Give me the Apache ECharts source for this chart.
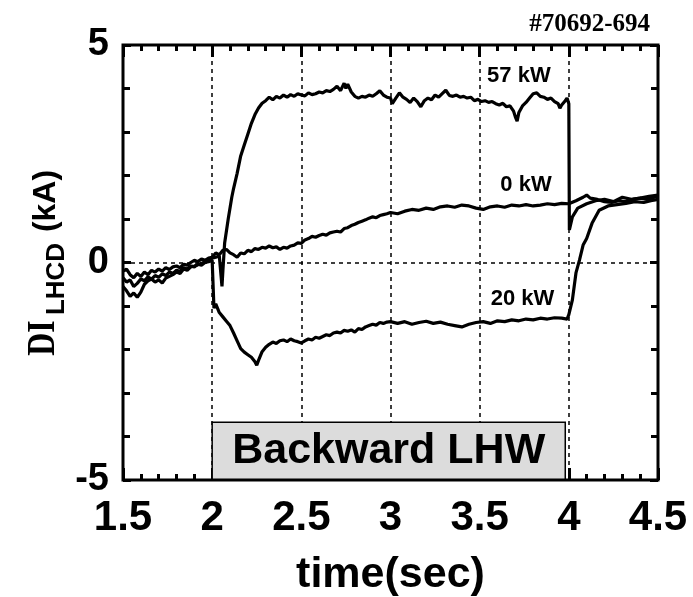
<!DOCTYPE html>
<html>
<head>
<meta charset="utf-8">
<script src="https://cdn.jsdelivr.net/npm/echarts@6/dist/echarts.min.js"></script>
<style>html,body{margin:0;padding:0;background:#fff}#c{width:693px;height:597px}</style>
</head>
<body>
<div id="c"></div>
<script>
// x tick labels (seconds) and y tick labels (kA)
const xTicks = [1.5, 2, 2.5, 3, 3.5, 4, 4.5];
const yTicks = [-5, 0, 5];
const seriesNames = ['57 kW', '0 kW', '20 kW'];

// 57 kW shot: [time (s), dI (kA)]
const s57 = [
[1.50,-0.55],[1.52,-0.65],[1.54,-0.78],[1.56,-0.70],[1.58,-0.80],[1.60,-0.68],[1.62,-0.50],[1.64,-0.42],
[1.66,-0.38],[1.68,-0.45],[1.70,-0.40],[1.72,-0.47],[1.74,-0.36],[1.76,-0.32],[1.78,-0.28],[1.80,-0.22],
[1.82,-0.25],[1.84,-0.15],[1.86,-0.18],[1.88,-0.10],[1.90,-0.08],[1.92,-0.05],[1.94,-0.02],[1.96,0.02],
[1.98,0.04],[2.00,0.10],[2.02,0.12],[2.04,0.15],[2.05,0.18],[2.055,-0.55],[2.06,-0.20],[2.07,0.45],
[2.09,1.00],[2.11,1.50],[2.12,1.70],[2.14,2.05],[2.16,2.45],[2.18,2.70],[2.20,2.95],[2.22,3.20],
[2.24,3.40],[2.26,3.55],[2.28,3.66],[2.30,3.72],[2.32,3.80],[2.34,3.74],[2.36,3.82],[2.38,3.78],
[2.40,3.85],[2.42,3.80],[2.44,3.86],[2.46,3.82],[2.48,3.88],[2.50,3.85],[2.52,3.83],[2.54,3.90],
[2.56,3.86],[2.58,3.88],[2.60,3.92],[2.62,3.90],[2.64,3.95],[2.66,3.93],[2.68,3.98],[2.70,4.05],
[2.72,3.95],[2.74,4.12],[2.75,4.00],[2.76,4.10],[2.78,3.92],[2.80,3.82],[2.82,3.78],[2.84,3.82],
[2.86,3.80],[2.88,3.85],[2.90,3.82],[2.92,3.88],[2.94,3.95],[2.96,3.85],[2.98,3.80],[3.00,3.78],
[3.01,3.65],[3.03,3.78],[3.05,3.90],[3.07,3.80],[3.09,3.75],[3.11,3.68],[3.13,3.78],[3.15,3.70],
[3.17,3.58],[3.19,3.72],[3.21,3.78],[3.23,3.74],[3.25,3.85],[3.27,3.80],[3.29,3.88],[3.31,3.96],
[3.33,3.84],[3.35,3.82],[3.37,3.85],[3.39,3.80],[3.41,3.82],[3.43,3.78],[3.45,3.80],[3.47,3.72],
[3.49,3.75],[3.51,3.70],[3.53,3.72],[3.55,3.68],[3.57,3.70],[3.59,3.65],[3.61,3.62],[3.63,3.66],
[3.65,3.58],[3.67,3.60],[3.69,3.48],[3.70,3.35],[3.71,3.25],[3.72,3.45],[3.74,3.60],[3.76,3.68],
[3.78,3.78],[3.80,3.88],[3.82,3.90],[3.84,3.82],[3.86,3.80],[3.88,3.75],[3.90,3.78],[3.92,3.70],
[3.94,3.65],[3.95,3.55],[3.96,3.62],[3.98,3.72],[3.99,3.78],[4.00,3.65],[4.003,0.75],[4.02,1.05],
[4.05,1.25],[4.10,1.35],[4.15,1.42],[4.20,1.45],[4.25,1.40],[4.30,1.50],[4.35,1.45],[4.40,1.48],
[4.45,1.52],[4.50,1.55]
];

// 0 kW shot
const s0 = [
[1.50,-0.20],[1.52,-0.15],[1.54,-0.28],[1.56,-0.35],[1.58,-0.25],[1.60,-0.32],[1.62,-0.22],[1.64,-0.28],
[1.66,-0.18],[1.68,-0.22],[1.70,-0.15],[1.72,-0.20],[1.74,-0.12],[1.76,-0.16],[1.78,-0.10],[1.80,-0.08],
[1.82,-0.12],[1.84,-0.04],[1.86,-0.06],[1.88,0.00],[1.90,0.05],[1.92,0.02],[1.94,0.08],[1.96,0.05],
[1.98,0.10],[2.00,0.12],[2.02,0.22],[2.04,0.18],[2.06,0.28],[2.08,0.30],[2.10,0.22],[2.12,0.18],
[2.14,0.12],[2.16,0.22],[2.18,0.20],[2.20,0.28],[2.22,0.25],[2.24,0.32],[2.26,0.30],[2.28,0.35],
[2.30,0.33],[2.32,0.38],[2.34,0.34],[2.36,0.36],[2.38,0.30],[2.40,0.35],[2.42,0.33],[2.44,0.38],
[2.46,0.40],[2.48,0.45],[2.50,0.44],[2.52,0.52],[2.54,0.55],[2.56,0.60],[2.58,0.58],[2.60,0.62],
[2.62,0.65],[2.64,0.63],[2.66,0.68],[2.68,0.70],[2.70,0.72],[2.72,0.70],[2.74,0.78],[2.76,0.80],
[2.78,0.85],[2.80,0.88],[2.82,0.92],[2.84,0.95],[2.86,0.98],[2.88,1.02],[2.90,1.05],[2.92,1.03],
[2.94,1.08],[2.96,1.10],[2.98,1.12],[3.00,1.15],[3.04,1.12],[3.08,1.18],[3.12,1.22],[3.16,1.20],
[3.20,1.25],[3.24,1.22],[3.28,1.28],[3.32,1.30],[3.36,1.27],[3.40,1.32],[3.44,1.30],[3.48,1.25],
[3.52,1.22],[3.56,1.28],[3.60,1.30],[3.64,1.27],[3.68,1.32],[3.72,1.30],[3.76,1.33],[3.80,1.30],
[3.84,1.32],[3.88,1.35],[3.92,1.33],[3.96,1.36],[4.00,1.35],[4.04,1.42],[4.08,1.50],[4.10,1.55],
[4.12,1.48],[4.16,1.45],[4.20,1.40],[4.24,1.38],[4.28,1.42],[4.32,1.40],[4.36,1.45],[4.40,1.48],
[4.44,1.45],[4.48,1.50],[4.50,1.52]
];

// 20 kW shot
const s20 = [
[1.50,-0.35],[1.52,-0.45],[1.54,-0.40],[1.56,-0.55],[1.58,-0.48],[1.60,-0.38],[1.62,-0.42],[1.64,-0.33],
[1.66,-0.38],[1.68,-0.30],[1.70,-0.34],[1.72,-0.26],[1.74,-0.30],[1.76,-0.22],[1.78,-0.25],[1.80,-0.18],
[1.82,-0.20],[1.84,-0.12],[1.86,-0.15],[1.88,-0.08],[1.90,-0.10],[1.92,-0.04],[1.94,-0.06],[1.96,0.00],
[1.98,0.02],[2.00,0.05],[2.005,-0.50],[2.01,-1.05],[2.02,-0.95],[2.04,-1.15],[2.06,-1.25],[2.08,-1.35],
[2.10,-1.45],[2.12,-1.62],[2.14,-1.80],[2.16,-1.98],[2.18,-2.06],[2.20,-2.12],[2.22,-2.18],[2.24,-2.28],
[2.25,-2.36],[2.26,-2.25],[2.28,-2.05],[2.30,-1.95],[2.32,-1.88],[2.34,-1.83],[2.36,-1.86],[2.38,-1.80],
[2.40,-1.78],[2.42,-1.82],[2.44,-1.76],[2.46,-1.80],[2.48,-1.82],[2.50,-1.85],[2.52,-1.80],[2.54,-1.76],
[2.56,-1.78],[2.58,-1.72],[2.60,-1.74],[2.62,-1.70],[2.64,-1.66],[2.66,-1.68],[2.68,-1.62],[2.70,-1.60],
[2.72,-1.62],[2.74,-1.56],[2.76,-1.58],[2.78,-1.55],[2.80,-1.60],[2.82,-1.52],[2.84,-1.54],[2.86,-1.48],
[2.88,-1.45],[2.90,-1.42],[2.92,-1.44],[2.94,-1.38],[2.96,-1.40],[2.98,-1.37],[3.00,-1.36],[3.04,-1.40],
[3.08,-1.36],[3.12,-1.42],[3.16,-1.38],[3.20,-1.35],[3.24,-1.40],[3.28,-1.37],[3.32,-1.42],[3.36,-1.45],
[3.40,-1.48],[3.44,-1.42],[3.48,-1.38],[3.52,-1.36],[3.56,-1.40],[3.60,-1.34],[3.64,-1.36],[3.68,-1.32],
[3.72,-1.34],[3.76,-1.30],[3.80,-1.32],[3.84,-1.28],[3.88,-1.30],[3.92,-1.27],[3.96,-1.28],[3.99,-1.30],
[4.00,-1.20],[4.02,-0.86],[4.04,-0.24],[4.06,0.06],[4.08,0.40],[4.10,0.55],[4.13,0.90],[4.17,1.20],
[4.22,1.30],[4.27,1.33],[4.32,1.36],[4.37,1.40],[4.42,1.38],[4.46,1.42],[4.50,1.45]
];

// annotation anchors (data coordinates)
const labelAnchors = [[3.72, 4.30], [3.76, 1.78], [3.74, -0.84]];
const lhwWindow = [2.0, 3.98];   // backward LHW on (s)
const lhwBoxTop = -3.67;         // kA

const SANS = "'Liberation Sans', Arial, Helvetica, sans-serif";
const SERIF = "'Liberation Serif', 'Times New Roman', serif";

const chart = echarts.init(document.getElementById('c'), null, {renderer: 'canvas'});

const dashed = {show: true, lineStyle: {color: '#000', width: 1.5, type: [4, 4]}};

function mkXAxis(pos, withLabels) {
  return {
    type: 'value', position: pos, min: 1.5, max: 4.5, interval: 0.5,
    axisLine: {show: false, onZero: false},
    axisTick: {show: true, inside: true, length: 12, lineStyle: {color: '#000', width: 3}},
    minorTick: {show: true, splitNumber: 5, length: 6, lineStyle: {color: '#000', width: 3}},
    splitLine: withLabels ? dashed : {show: false},
    axisLabel: withLabels ? {show: true, margin: 17, fontSize: 42, fontWeight: 'bold', color: '#000', fontFamily: SANS,
      formatter: v => String(xTicks.find(t => Math.abs(t - v) < 1e-6))} : {show: false},
    name: withLabels ? 'time(sec)' : '',
    nameLocation: 'middle', nameGap: 74,
    nameTextStyle: {fontSize: 43, fontWeight: 'bold', color: '#000', fontFamily: SANS}
  };
}
function mkYAxis(pos, withLabels) {
  return {
    type: 'value', position: pos, min: -5, max: 5, interval: 5,
    axisLine: {show: false, onZero: false},
    axisTick: {show: true, inside: true, length: 8, lineStyle: {color: '#000', width: 3}},
    minorTick: {show: true, splitNumber: 5, length: 7, lineStyle: {color: '#000', width: 3}},
    splitLine: withLabels ? dashed : {show: false},
    axisLabel: withLabels ? {show: true, margin: 14, fontSize: 38, fontWeight: 'bold', color: '#000', fontFamily: SANS,
      formatter: v => String(yTicks.find(t => Math.abs(t - v) < 1e-6))} : {show: false}
  };
}

const lineStyle = {color: '#000', width: 3.2};
function mkSeries(name, data, idx) {
  return {
    name, type: 'line', data, showSymbol: false, symbol: 'none',
    lineStyle, itemStyle: {color: '#000'}, animation: false, z: 3,
    markPoint: {
      symbol: 'rect', symbolSize: 1, itemStyle: {color: 'rgba(0,0,0,0)'},
      label: {show: true, position: 'inside', formatter: name, fontSize: 22, fontWeight: 'bold', color: '#000', fontFamily: SANS},
      data: [{coord: labelAnchors[idx]}]
    }
  };
}

const series = [mkSeries(seriesNames[0], s57, 0), mkSeries(seriesNames[1], s0, 1), mkSeries(seriesNames[2], s20, 2)];
series[2].markArea = {
  silent: true,
  itemStyle: {color: '#dcdcdc', borderColor: '#000', borderWidth: 1.5},
  label: {show: true, position: 'inside', formatter: 'Backward LHW', fontSize: 43, fontWeight: 'bold', color: '#000', fontFamily: SANS},
  data: [[{xAxis: lhwWindow[0], yAxis: lhwBoxTop}, {xAxis: lhwWindow[1], yAxis: -5}]]
};

chart.setOption({
  animation: false,
  backgroundColor: '#fff',
  grid: {left: 123, right: 35, top: 45, bottom: 117, containLabel: false, outerBoundsMode: 'none',
    show: true, borderColor: '#000', borderWidth: 3, backgroundColor: 'transparent', z: 5},
  xAxis: [mkXAxis('bottom', true), mkXAxis('top', false)],
  yAxis: [mkYAxis('left', true), mkYAxis('right', false)],
  series,
  graphic: [
    {type: 'text', x: 650, y: 25, style: {text: '#70692-694', textAlign: 'right', textVerticalAlign: 'middle',
      font: "bold 25px " + SERIF, fill: '#000'}},
    {type: 'text', x: 44, y: 338, rotation: Math.PI / 2, scaleX: 0.8,
      style: {text: 'DI', textAlign: 'center', textVerticalAlign: 'middle', font: "bold 40px " + SERIF, fill: '#000'}},
    {type: 'text', x: 57, y: 279, rotation: Math.PI / 2,
      style: {text: 'LHCD', textAlign: 'center', textVerticalAlign: 'middle', font: "bold 26px " + SANS, fill: '#000'}},
    {type: 'text', x: 46, y: 201, rotation: Math.PI / 2,
      style: {text: '(kA)', textAlign: 'center', textVerticalAlign: 'middle', font: "bold 32px " + SANS, fill: '#000'}}
  ]
});
</script>
</body>
</html>
